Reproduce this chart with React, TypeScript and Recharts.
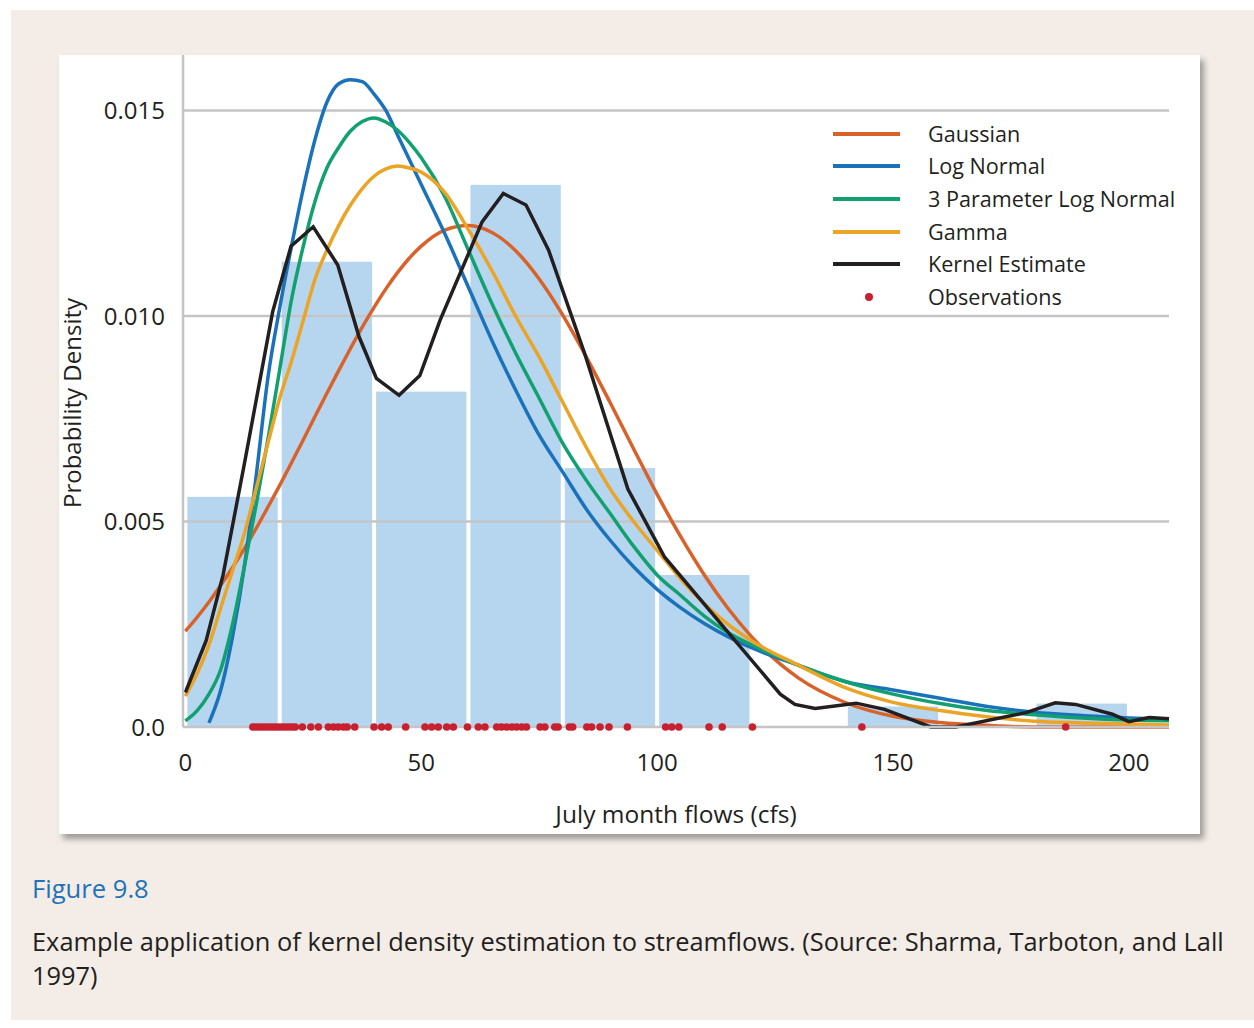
import React from 'react';
import {
  ComposedChart,
  Line,
  ReferenceArea,
  ReferenceLine,
  Scatter,
  XAxis,
  YAxis,
} from 'recharts';

// histogram: bin starts (width 20 cfs) and their densities
const BIN_START = [0, 20, 40, 60, 80, 100, 120, 140, 160, 180];
const BIN_DENSITY = [0.0056, 0.01132, 0.00816, 0.01319, 0.0063, 0.0037, 0, 0.0005, 0, 0.00057];
const BIN_WIDTH = 20;

// x positions the fitted curves were read at
const FLOW_X = [
  0, 2.5, 5, 7.5, 10, 12.5, 15, 17.5, 20, 22.5, 25, 27.5, 30, 32.5, 35, 37.5, 40, 42.5, 45, 47.5, 50,
  55, 60, 65, 70, 75, 80, 85, 90, 95, 100, 105, 110, 115, 120,
  130, 140, 150, 160, 170, 180, 190, 200, 208.5,
];

const GAUSSIAN = [
  0.00233, 0.00267, 0.00304, 0.00345, 0.00388, 0.00434, 0.00483, 0.00535, 0.00588, 0.00643, 0.00699, 0.00756, 0.00812, 0.00867, 0.00921, 0.00973, 0.01021, 0.01066, 0.01106, 0.01141, 0.0117,
  0.01209, 0.0122, 0.01203, 0.01159, 0.0109, 0.01002, 0.009, 0.0079, 0.00677, 0.00566, 0.00463, 0.0037, 0.00289, 0.0022,
  0.00119, 0.00059, 0.00026, 0.00011, 0.00004, 0, 0, 0, 0,
];

const LOG_NORMAL = [
  null, null, 0.0001, 0.0009, 0.0022, 0.0039, 0.0061, 0.0085, 0.0102, 0.0117, 0.0131, 0.0143, 0.0152, 0.01565, 0.01575, 0.0157, 0.0154, 0.015, 0.0144, 0.0138, 0.0132,
  0.012, 0.0107, 0.0094, 0.0082, 0.0071, 0.0062, 0.0053, 0.00455, 0.0039, 0.00335, 0.0029, 0.00252, 0.0022, 0.00193,
  0.0015, 0.0011, 0.0009, 0.0007, 0.0005, 0.00036, 0.00028, 0.00022, 0.0002,
];

const LOG_NORMAL_3P = [
  0.00015, 0.0004, 0.0008, 0.0014, 0.0025, 0.0039, 0.0054, 0.007, 0.0087, 0.0104, 0.0117, 0.0128, 0.0136, 0.0141, 0.0145, 0.01473, 0.01482, 0.01472, 0.01452, 0.01422, 0.01385,
  0.0129, 0.0116, 0.0103, 0.0091, 0.008, 0.0069, 0.006, 0.0052, 0.0044, 0.0037, 0.0032, 0.0027, 0.0023, 0.002,
  0.0015, 0.0011, 0.0008, 0.00057, 0.0004, 0.0003, 0.00022, 0.00017, 0.00015,
];

const GAMMA = [
  0.00075, 0.0013, 0.002, 0.0029, 0.0038, 0.0047, 0.0058, 0.0069, 0.008, 0.0089, 0.0099, 0.0109, 0.0116, 0.0122, 0.0127, 0.0131, 0.0134, 0.01358, 0.01365, 0.0136, 0.0135,
  0.013, 0.0121, 0.0111, 0.01, 0.009, 0.0079, 0.0068, 0.0058, 0.005, 0.0043, 0.0036, 0.003, 0.0025, 0.0021,
  0.0015, 0.00095, 0.0006, 0.0004, 0.00025, 0.00014, 0.0001, 0.00007, 0.00005,
];

// kernel estimate is a polyline, vertices read off directly
const KERNEL_X = [
  0, 4.4, 8, 12.5, 18.5, 22.4, 27.1, 32.3, 36.8, 40.5, 45.3, 49.7, 54, 62.9, 67.4, 72.2, 77, 84.6, 93.8, 101.6,
  126.1, 129.2, 133.5, 142.2, 148.2, 158, 163.3, 178.2, 184.4, 188.7, 196.5, 200, 204.3, 208.5,
];
const KERNEL_Y = [
  0.00084, 0.0021, 0.0037, 0.0064, 0.0101, 0.0117, 0.01217, 0.01124, 0.0095, 0.00848, 0.00807, 0.00855, 0.0099, 0.01229, 0.01298, 0.0127, 0.0116, 0.0091, 0.00579, 0.00413,
  0.0008, 0.00055, 0.00045, 0.00058, 0.00043, 0, 0, 0.00035, 0.00059, 0.00055, 0.00031, 0.00013, 0.00023, 0.0002,
];

const OBSERVED_FLOWS = [
  14.3, 15.0, 15.7, 16.4, 17.1, 17.8, 18.5, 19.2, 19.9, 20.6, 21.3, 22.0, 22.7, 23.3, 24.8, 26.6, 28.2,
  30.3, 31.4, 32.4, 33.5, 34.3, 35.9, 40.0, 41.6, 43.0, 46.7, 50.8, 52.2, 53.6, 55.4, 56.8, 59.8,
  62.1, 63.5, 66.0, 67.0, 68.1, 69.2, 70.2, 71.3, 72.3, 75.2, 76.2, 78.3, 79.0, 81.4, 82.1, 85.1,
  86.1, 87.9, 89.8, 93.7, 101.8, 103.1, 104.6, 111.0, 113.8, 120.2, 143.4, 186.6,
];

const X_TICKS = [0, 50, 100, 150, 200];
const Y_TICKS = [0, 0.005, 0.01, 0.015];

const COLORS = {
  gaussian: '#d9622b',
  logNormal: '#1a72bb',
  logNormal3p: '#13a070',
  gamma: '#eba426',
  kernel: '#231f20',
  obs: '#c8202f',
  bar: '#b6d6f0',
  grid: '#c5c5c7',
  text: '#231f20',
};

const SERIES = [
  { key: 'gaussian', name: 'Gaussian', values: GAUSSIAN, color: COLORS.gaussian },
  { key: 'logNormal', name: 'Log Normal', values: LOG_NORMAL, color: COLORS.logNormal },
  { key: 'logNormal3p', name: '3 Parameter Log Normal', values: LOG_NORMAL_3P, color: COLORS.logNormal3p },
  { key: 'gamma', name: 'Gamma', values: GAMMA, color: COLORS.gamma },
];

const FONT = '"Open Sans", "Noto Sans", sans-serif';

function toPoints(xs: number[], ys: (number | null)[]) {
  return xs
    .map((x, i) => ({ x, y: ys[i] }))
    .filter((p) => p.y !== null && p.y !== undefined);
}

const kernelData = toPoints(KERNEL_X, KERNEL_Y);
const obsData = OBSERVED_FLOWS.map((x) => ({ x, y: 0 }));

function BinShape(props: any) {
  const { x, y, width, height } = props;
  return <rect x={x + 2} y={y} width={Math.max(width - 4, 0)} height={height} fill={COLORS.bar} />;
}

function Dot(props: any) {
  return <circle cx={props.cx} cy={props.cy} r={3.8} fill={COLORS.obs} />;
}

function LegendBox() {
  const rows = [
    ...SERIES.map((s) => ({ name: s.name, color: s.color, dot: false })),
    { name: 'Kernel Estimate', color: COLORS.kernel, dot: false },
    { name: 'Observations', color: COLORS.obs, dot: true },
  ];
  return (
    <div style={{ position: 'absolute', left: 774, top: 62.5 }}>
      {rows.map((r) => (
        <div key={r.name} style={{ display: 'flex', alignItems: 'center', height: 32.6 }}>
          <svg width={67} height={12} style={{ display: 'block' }}>
            {r.dot ? (
              <circle cx={36} cy={6} r={4} fill={r.color} />
            ) : (
              <line x1={0} y1={6} x2={67} y2={6} stroke={r.color} strokeWidth={4} />
            )}
          </svg>
          <span style={{ marginLeft: 28, fontSize: 21.6, color: COLORS.text, whiteSpace: 'nowrap', lineHeight: '24px' }}>
            {r.name}
          </span>
        </div>
      ))}
    </div>
  );
}

export default function App() {
  return (
    <div style={{ position: 'absolute', left: 0, top: 0, width: 1254, height: 1028, background: '#fff', fontFamily: FONT }}>
      <div style={{ position: 'absolute', left: 11, top: 10, width: 1243, height: 1010, background: '#f3ece7' }} />

      <div
        style={{
          position: 'absolute',
          left: 59,
          top: 55,
          width: 1141,
          height: 779,
          background: '#fff',
          boxShadow: '4px 5px 6px rgba(0,0,0,0.35)',
        }}
      >
        <ComposedChart width={1141} height={779} margin={{ top: 0, right: 31, bottom: 0, left: 0 }}>
          <XAxis
            type="number"
            dataKey="x"
            domain={[-0.5, 208.5]}
            ticks={X_TICKS}
            height={107}
            tickLine={false}
            tickSize={0}
            tickMargin={27}
            axisLine={{ stroke: COLORS.grid, strokeWidth: 2.5 }}
            tick={{ fontSize: 24, fill: COLORS.text, fontFamily: FONT }}
            label={{
              content: () => (
                <text x={617} y={758} textAnchor="middle" dominantBaseline="central" fontSize={24.5} fill={COLORS.text} fontFamily={FONT}>
                  July month flows (cfs)
                </text>
              ),
            }}
          />
          <YAxis
            type="number"
            domain={[0, 0.01635]}
            ticks={Y_TICKS}
            width={124}
            tickLine={false}
            tickSize={0}
            tickMargin={18}
            axisLine={{ stroke: COLORS.grid, strokeWidth: 2.5 }}
            tick={{ fontSize: 24, fill: COLORS.text, fontFamily: FONT }}
            tickFormatter={(v: number) => (v === 0 ? '0.0' : v.toFixed(3))}
          />

          {BIN_START.map((start, i) =>
            BIN_DENSITY[i] > 0 ? (
              <ReferenceArea
                key={`bin-${start}`}
                x1={start}
                x2={start + BIN_WIDTH}
                y1={0}
                y2={BIN_DENSITY[i]}
                shape={BinShape}
              />
            ) : null,
          )}

          {Y_TICKS.filter((t) => t > 0).map((t) => (
            <ReferenceLine key={`grid-${t}`} y={t} stroke={COLORS.grid} strokeWidth={2.5} />
          ))}

          {SERIES.map((s) => (
            <Line
              key={s.key}
              data={toPoints(FLOW_X, s.values)}
              dataKey="y"
              type="monotone"
              stroke={s.color}
              strokeWidth={3.5}
              dot={false}
              activeDot={false}
              isAnimationActive={false}
            />
          ))}
          <Line
            data={kernelData}
            dataKey="y"
            type="linear"
            stroke={COLORS.kernel}
            strokeWidth={3.5}
            dot={false}
            activeDot={false}
            isAnimationActive={false}
          />
          <Scatter data={obsData} dataKey="y" shape={Dot} isAnimationActive={false} />
        </ComposedChart>

        {/* rotated y-axis title, kept as html so it is never clipped */}
        <div
          style={{
            position: 'absolute',
            left: 13,
            top: 348,
            transform: 'translate(-50%, -50%) rotate(-90deg)',
            fontSize: 24,
            lineHeight: '28px',
            color: COLORS.text,
            whiteSpace: 'nowrap',
          }}
        >
          Probability Density
        </div>

        <LegendBox />
      </div>

      <div style={{ position: 'absolute', left: 32, top: 874, fontSize: 25.6, lineHeight: '30px', color: '#1e73b9' }}>
        Figure 9.8
      </div>
      <div style={{ position: 'absolute', left: 32, top: 924, fontSize: 25.4, lineHeight: '34px', color: COLORS.text, whiteSpace: 'nowrap' }}>
        Example application of kernel density estimation to streamflows. (Source: Sharma, Tarboton, and Lall
        <br />
        1997)
      </div>
    </div>
  );
}
